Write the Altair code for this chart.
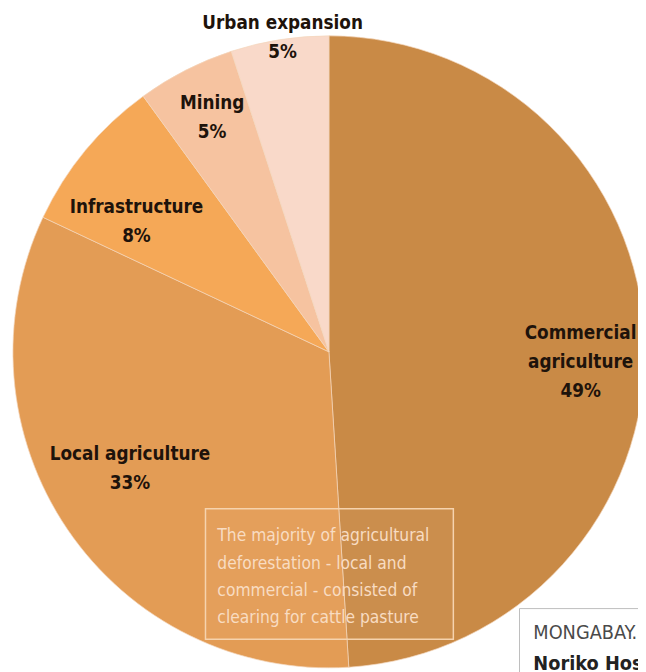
import altair as alt
import pandas as pd

# ---- data ----
categories = ["Commercial agriculture", "Local agriculture", "Infrastructure", "Mining", "Urban expansion"]
label_names = ["Commercial\nagriculture", "Local agriculture", "Infrastructure", "Mining", "Urban expansion"]
shares = [49, 33, 8, 5, 5]
note_text = "The majority of agricultural\ndeforestation - local and\ncommercial - consisted of\nclearing for cattle pasture"
credit_lines = ["MONGABAY.", "Noriko Hosoe"]

# ---- styles / layout ----
colors = ["#C98A46", "#E39C55", "#F5A857", "#F6C3A0", "#F9D9C9"]
CX, CY, R = 325, 344, 320
LABEL_FONT = "DejaVu Sans Condensed"
NOTE_FONT = "Liberation Sans Narrow, DejaVu Sans Condensed, sans-serif"
# per-label placement: radius, dx, dy (dy locates the first line)
label_layout = {
    "Commercial agriculture": (248, 7, -11),
    "Local agriculture": (240, -3, -31),
    "Infrastructure": (240, -10, 6),
    "Mining": (265, 2, -16),
    "Urban expansion": (319, 3, -18),
}

df = pd.DataFrame({
    "category": categories,
    "share": shares,
    "order": list(range(len(categories))),
    "label": [f"{n}\n{s}%" for n, s in zip(label_names, shares)],
})

theta_scale = alt.Scale(domain=[0, 100])

base = alt.Chart(df).transform_window(
    cum="sum(share)", sort=[alt.SortField("order")], frame=[None, 0]
).transform_calculate(
    start="datum.cum - datum.share",
    mid="datum.cum - datum.share / 2",
)

pie = base.mark_arc(radius=R, stroke="#F4D6BC", strokeWidth=0.7).encode(
    theta=alt.Theta("start:Q", scale=theta_scale),
    theta2="cum:Q",
    color=alt.Color("category:N", scale=alt.Scale(domain=categories, range=colors), legend=None),
    x=alt.value(CX),
    y=alt.value(CY),
)

label_layers = []
for cat in categories:
    r, dx, dy = label_layout[cat]
    label_layers.append(
        base.transform_filter(alt.datum.category == cat).mark_text(
            radius=r, dx=dx, dy=dy, lineBreak="\n", lineHeight=29.5,
            font=LABEL_FONT, fontWeight="bold", fontSize=19, color="#1e130b",
            align="center", baseline="middle",
        ).encode(
            theta=alt.Theta("mid:Q", scale=theta_scale),
            text="label:N",
            x=alt.value(CX),
            y=alt.value(CY),
        )
    )

note_df = pd.DataFrame({"note": [note_text]})
note_box = alt.Chart(note_df).mark_rect(
    fill="#FFFFFF", fillOpacity=0.04, stroke="#F6D3AE", strokeWidth=1.5
).encode(x=alt.value(200), x2=alt.value(451), y=alt.value(503), y2=alt.value(635))

note = alt.Chart(note_df).mark_text(
    align="left", baseline="middle", lineBreak="\n", lineHeight=27.5,
    font=NOTE_FONT, fontSize=17.5, color="#F8DCC2",
).encode(text="note:N", x=alt.value(212), y=alt.value(531))

credit_df = pd.DataFrame({"line": credit_lines})
credit_box = alt.Chart(credit_df.head(1)).mark_rect(
    fill="#FFFFFF", stroke="#BDBDBD", strokeWidth=1
).encode(x=alt.value(518), x2=alt.value(700), y=alt.value(604), y2=alt.value(720))

credit1 = alt.Chart(credit_df.head(1)).mark_text(
    align="left", baseline="middle", font=NOTE_FONT, fontSize=20, color="#4a4a4a"
).encode(text="line:N", x=alt.value(532), y=alt.value(629))

credit2 = alt.Chart(credit_df.tail(1)).mark_text(
    align="left", baseline="middle", font=NOTE_FONT, fontSize=20, fontWeight="bold", color="#222222"
).encode(text="line:N", x=alt.value(532), y=alt.value(660))

chart = alt.layer(
    pie, *label_layers, note_box, note, credit_box, credit1, credit2
).properties(
    width=638, height=664, autosize="none", padding=0
).configure_view(strokeWidth=0)

chart.save("out.html", embed_options={"renderer": "svg", "actions": False})
